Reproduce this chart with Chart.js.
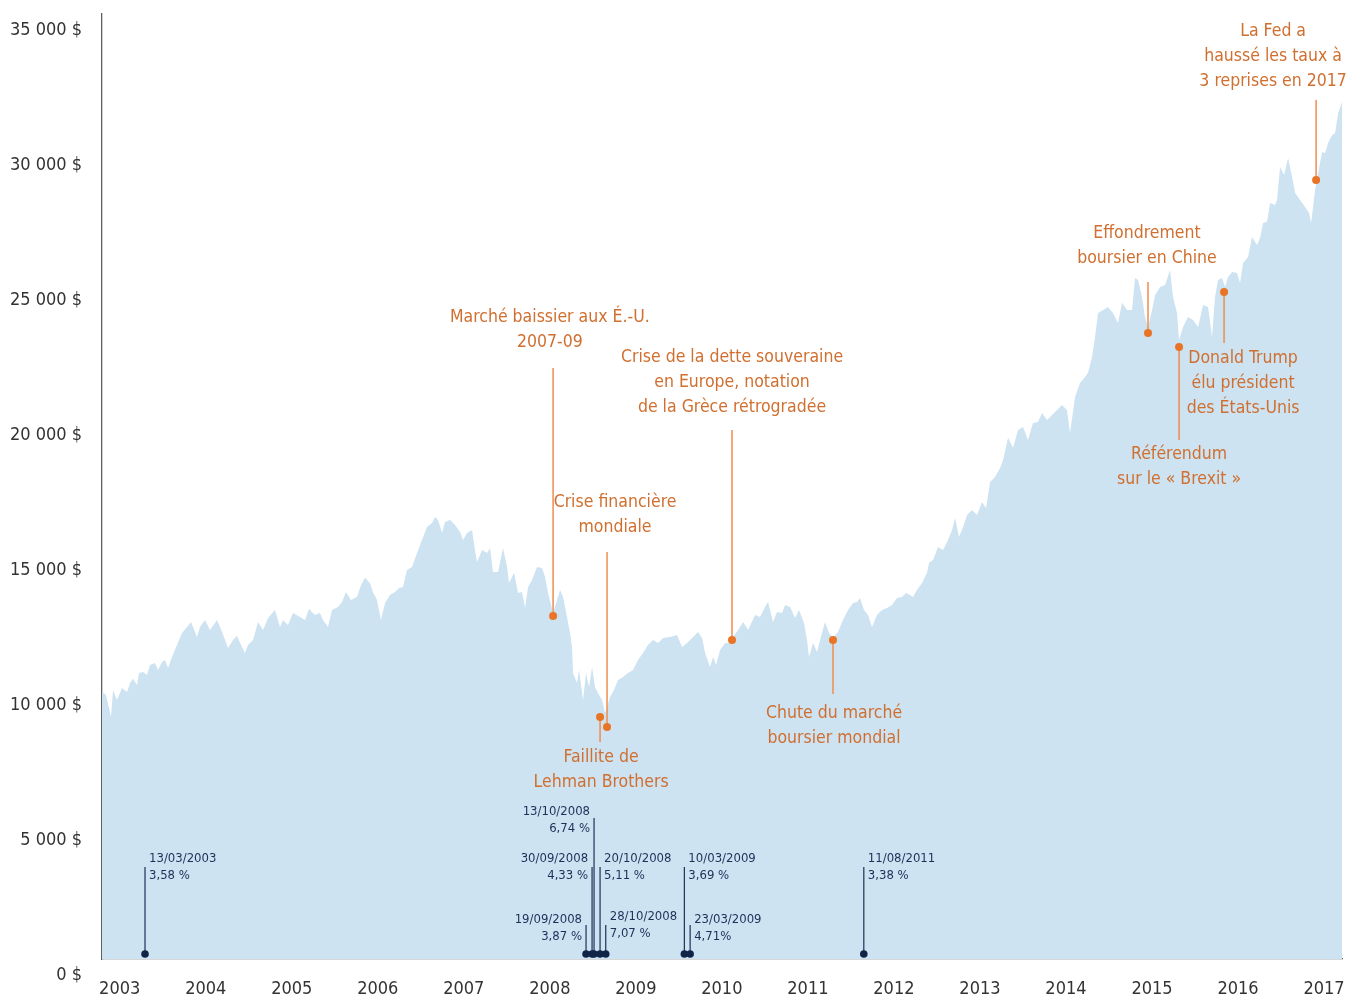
<!DOCTYPE html>
<html>
<head>
<meta charset="utf-8">
<script src="https://cdn.jsdelivr.net/npm/chart.js@4.4.1/dist/chart.umd.min.js"></script>
<style>
  html, body { margin: 0; padding: 0; background: #ffffff; }
  #wrap { width: 1359px; height: 998px; position: relative; }
</style>
</head>
<body>
<div id="wrap"><canvas id="c" width="1359" height="998"></canvas></div>
<script>
// ---------------- DATA ----------------
const yearTicks = [2003, 2004, 2005, 2006, 2007, 2008, 2009, 2010, 2011, 2012, 2013, 2014, 2015, 2016, 2017];
const valueTicks = [0, 5000, 10000, 15000, 20000, 25000, 30000, 35000];

const dates = [
  2002.794, 2002.840, 2002.899, 2002.922, 2002.968, 2003.026, 2003.085, 2003.120, 2003.154, 2003.201,
  2003.224, 2003.271, 2003.317, 2003.352, 2003.410, 2003.445, 2003.492, 2003.526, 2003.561, 2003.608,
  2003.666, 2003.724, 2003.782, 2003.829, 2003.898, 2003.933, 2003.991, 2004.050, 2004.131, 2004.189,
  2004.259, 2004.317, 2004.363, 2004.422, 2004.456, 2004.491, 2004.550, 2004.608, 2004.666, 2004.724,
  2004.805, 2004.863, 2004.898, 2004.956, 2005.014, 2005.096, 2005.154, 2005.200, 2005.270, 2005.328,
  2005.363, 2005.421, 2005.468, 2005.537, 2005.584, 2005.630, 2005.688, 2005.758, 2005.805, 2005.851,
  2005.909, 2005.944, 2005.991, 2006.037, 2006.084, 2006.142, 2006.200, 2006.247, 2006.293, 2006.340,
  2006.398, 2006.456, 2006.514, 2006.572, 2006.631, 2006.666, 2006.700, 2006.747, 2006.782, 2006.840,
  2006.898, 2006.957, 2006.991, 2007.038, 2007.096, 2007.130, 2007.154, 2007.212, 2007.270, 2007.305,
  2007.340, 2007.398, 2007.456, 2007.503, 2007.526, 2007.584, 2007.631, 2007.677, 2007.712, 2007.747,
  2007.793, 2007.851, 2007.910, 2007.945, 2007.979, 2008.038, 2008.084, 2008.119, 2008.154, 2008.200,
  2008.235, 2008.258, 2008.270, 2008.316, 2008.340, 2008.386, 2008.421, 2008.456, 2008.491, 2008.525,
  2008.560, 2008.607, 2008.642, 2008.665, 2008.700, 2008.746, 2008.793, 2008.851, 2008.909, 2008.967,
  2009.025, 2009.083, 2009.141, 2009.200, 2009.258, 2009.316, 2009.397, 2009.479, 2009.537, 2009.595,
  2009.665, 2009.723, 2009.770, 2009.805, 2009.863, 2009.898, 2009.933, 2009.979, 2010.037, 2010.095,
  2010.130, 2010.188, 2010.247, 2010.305, 2010.386, 2010.444, 2010.502, 2010.537, 2010.595, 2010.642,
  2010.700, 2010.735, 2010.793, 2010.851, 2010.897, 2010.955, 2010.990, 2011.013, 2011.060, 2011.106,
  2011.164, 2011.199, 2011.246, 2011.292, 2011.350, 2011.408, 2011.466, 2011.525, 2011.571, 2011.606,
  2011.652, 2011.699, 2011.745, 2011.803, 2011.861, 2011.920, 2011.978, 2012.036, 2012.094, 2012.141,
  2012.187, 2012.222, 2012.268, 2012.327, 2012.385, 2012.408, 2012.455, 2012.513, 2012.571, 2012.629,
  2012.676, 2012.711, 2012.757, 2012.804, 2012.850, 2012.908, 2012.966, 2013.025, 2013.071, 2013.118,
  2013.176, 2013.234, 2013.269, 2013.327, 2013.385, 2013.443, 2013.501, 2013.559, 2013.617, 2013.675,
  2013.722, 2013.780, 2013.838, 2013.896, 2013.954, 2014.012, 2014.047, 2014.106, 2014.164, 2014.222,
  2014.256, 2014.303, 2014.338, 2014.373, 2014.431, 2014.489, 2014.547, 2014.605, 2014.652, 2014.710,
  2014.768, 2014.803, 2014.838, 2014.884, 2014.919, 2014.954, 2015.001, 2015.036, 2015.094, 2015.152,
  2015.210, 2015.245, 2015.291, 2015.315, 2015.361, 2015.419, 2015.477, 2015.536, 2015.594, 2015.652,
  2015.698, 2015.733, 2015.768, 2015.815, 2015.849, 2015.884, 2015.931, 2015.989, 2016.024, 2016.059,
  2016.117, 2016.163, 2016.221, 2016.256, 2016.291, 2016.338, 2016.373, 2016.431, 2016.454, 2016.489,
  2016.536, 2016.582, 2016.629, 2016.664, 2016.722, 2016.780, 2016.826, 2016.850, 2016.896, 2016.931,
  2016.978, 2017.013, 2017.047, 2017.094, 2017.129, 2017.164, 2017.209
];

const values = [
  10445, 10320, 9520, 10510, 10140, 10580, 10430, 10770, 10920, 10690,
  11140, 11175, 11060, 11430, 11510, 11250, 11545, 11620, 11320, 11730,
  12175, 12620, 12840, 13030, 12470, 12840, 13100, 12730, 13100, 12660,
  12060, 12360, 12510, 12100, 11880, 12175, 12360, 13030, 12730, 13175,
  13470, 12840, 13100, 12915, 13360, 13210, 13100, 13510, 13285, 13360,
  13100, 12840, 13470, 13580, 13770, 14140, 13840, 13950, 14400, 14660,
  14470, 14140, 13840, 13100, 13730, 14030, 14140, 14285, 14320, 14955,
  15065, 15580, 16065, 16545, 16695, 16915, 16805, 16325, 16730, 16805,
  16620, 16360, 16065, 16325, 16435, 15695, 15250, 15695, 15580, 15770,
  14880, 14880, 15770, 15065, 14470, 14845, 14100, 14140, 13545, 14320,
  14580, 15065, 15025, 14695, 14100, 13360, 13840, 14210, 13950, 13210,
  12620, 12100, 11140, 10770, 11250, 10140, 11140, 10620, 11360, 10620,
  10400, 10140, 9655, 9880, 10250, 10510, 10880, 10990, 11140, 11250,
  11620, 11880, 12175, 12360, 12250, 12435, 12470, 12545, 12100, 12250,
  12470, 12655, 12435, 11880, 11360, 11730, 11435, 11990, 12250, 12250,
  12470, 12730, 13030, 12730, 13285, 13210, 13580, 13770, 13030, 13400,
  13360, 13655, 13580, 13175, 13470, 12990, 12360, 11730, 12250, 11915,
  12620, 13030, 12620, 12435, 12655, 13100, 13470, 13730, 13770, 13915,
  13470, 13285, 12840, 13285, 13470, 13545, 13655, 13915, 13950, 14100,
  14030, 13950, 14210, 14470, 14845, 15215, 15325, 15805, 15695, 16065,
  16435, 16880, 16175, 16545, 16990, 17175, 16990, 17470, 17250, 18210,
  18395, 18730, 19030, 19845, 19475, 20140, 20250, 19770, 20400, 20435,
  20770, 20510, 20695, 20880, 21065, 20880, 20030, 21360, 21880, 22100,
  22250, 22840, 23585, 24470, 24585, 24695, 24470, 24100, 24845, 24585,
  24585, 25770, 25695, 25065, 24325, 23955, 24585, 25140, 25435, 25510,
  26065, 25065, 24470, 23470, 23955, 24325, 24210, 23955, 24770, 24695,
  23585, 25065, 25695, 25770, 25435, 25805, 25990, 25955, 25585, 26325,
  26545, 27285, 26990, 27250, 27805, 27845, 28545, 28470, 28655, 29880,
  29585, 30215, 29510, 28915, 28655, 28400, 28175, 27805, 29025, 29655,
  30435, 30400, 30770, 31065, 31140, 31880, 32285
];

// Orange event annotations: dot date/value, connector end value, label lines
const eventDates   = [2008.038, 2008.665, 2008.584, 2010.118, 2011.292, 2014.954, 2015.315, 2015.838, 2016.908];
const eventValues  = [13250, 9140, 9510, 12360, 12360, 23730, 23210, 25250, 29400];
const eventLineEnd = [22435, 15620, 8580, 20140, 10360, 25620, 19770, 23360, 32360];
const eventLabels  = [
  ["Marché baissier aux É.-U.", "2007-09"],
  ["Crise financière", "mondiale"],
  ["Faillite de", "Lehman Brothers"],
  ["Crise de la dette souveraine", "en Europe, notation", "de la Grèce rétrogradée"],
  ["Chute du marché", "boursier mondial"],
  ["Effondrement", "boursier en Chine"],
  ["Référendum", "sur le « Brexit »"],
  ["Donald Trump", "élu président", "des États-Unis"],
  ["La Fed a", "haussé les taux à", "3 reprises en 2017"]
];
const eventLabelDates  = [2008.000, 2008.758, 2008.596, 2010.118, 2011.304, 2014.942, 2015.315, 2016.059, 2016.408];
const eventLabelValues = [24320, 17470, 8025, 22840, 9655, 27400, 19215, 22770, 34880];

// Navy markers at the bottom: daily drops
const dropDates   = [2003.294, 2008.421, 2008.491, 2008.514, 2008.584, 2008.650, 2009.564, 2009.631, 2011.650];
const dropLabels  = ["13/03/2003", "19/09/2008", "30/09/2008", "13/10/2008", "20/10/2008", "28/10/2008", "10/03/2009", "23/03/2009", "11/08/2011"];
const dropPercent = ["3,58 %", "3,87 %", "4,33 %", "6,74 %", "5,11 %", "7,07 %", "3,69 %", "4,71%", "3,38 %"];
const dropBase    = 730;
const dropTop     = [3950, 1800, 3950, 5770, 3950, 1800, 3950, 1800, 3950];
const dropTextTop = [4250, 1990, 4250, 6000, 4250, 2100, 4250, 1990, 4250];
const dropAlign   = ["left", "right", "right", "right", "left", "left", "left", "left", "left"];

// ---------------- STYLE ----------------
const FONT = '"DejaVu Sans Condensed", "Liberation Sans Narrow", Roboto, "Noto Sans", sans-serif';
const AREA = 'rgb(205,227,242)';
const ORANGE_TXT = '#d06f2f';
const ORANGE_DOT = '#ea7425';
const ORANGE_LINE = '#ee8d4f';
const NAVY = '#1c3157';
const AXIS = '#5f5f5f';

const datasets = [];
datasets.push({
  type: 'line',
  label: 'valeur',
  data: dates.map((d, i) => ({ x: d, y: values[i] })),
  backgroundColor: AREA,
  borderWidth: 0,
  borderColor: 'rgba(0,0,0,0)',
  pointRadius: 0,
  fill: 'start',
  tension: 0,
  order: 10
});
eventDates.forEach((d, i) => {
  datasets.push({
    type: 'line',
    data: [{ x: d, y: eventValues[i] }, { x: d, y: eventLineEnd[i] }],
    borderColor: ORANGE_LINE,
    borderWidth: 1.5,
    pointRadius: 0,
    fill: false,
    order: 5
  });
});
dropDates.forEach((d, i) => {
  datasets.push({
    type: 'line',
    data: [{ x: d, y: dropBase }, { x: d, y: dropTop[i] }],
    borderColor: NAVY,
    borderWidth: 1.2,
    pointRadius: 0,
    fill: false,
    order: 5
  });
});
datasets.push({
  type: 'scatter',
  data: eventDates.map((d, i) => ({ x: d, y: eventValues[i] })),
  backgroundColor: ORANGE_DOT,
  borderWidth: 0,
  pointRadius: 4,
  order: 1
});
datasets.push({
  type: 'scatter',
  data: dropDates.map(d => ({ x: d, y: dropBase })),
  backgroundColor: '#0f2447',
  borderWidth: 0,
  pointRadius: 3.8,
  order: 1
});

const labelPlugin = {
  id: 'labels',
  afterDatasetsDraw(chart) {
    const ctx = chart.ctx;
    const xs = chart.scales.x, ys = chart.scales.y;
    ctx.save();
    ctx.textBaseline = 'middle';
    ctx.font = '17.5px ' + FONT;
    ctx.fillStyle = ORANGE_TXT;
    ctx.textAlign = 'center';
    eventLabels.forEach((lines, i) => {
      const px = xs.getPixelForValue(eventLabelDates[i]);
      const py = ys.getPixelForValue(eventLabelValues[i]);
      lines.forEach((t, k) => ctx.fillText(t, px, py + k * 25));
    });
    ctx.font = '13px ' + FONT;
    ctx.fillStyle = NAVY;
    dropDates.forEach((d, i) => {
      const px = xs.getPixelForValue(d);
      const py = ys.getPixelForValue(dropTextTop[i]);
      const left = dropAlign[i] === 'left';
      ctx.textAlign = left ? 'left' : 'right';
      const tx = left ? px + 4 : px - 4;
      ctx.fillText(dropLabels[i], tx, py);
      ctx.fillText(dropPercent[i], tx, py + 17);
    });
    ctx.restore();
  }
};

new Chart(document.getElementById('c'), {
  data: { datasets },
  options: {
    responsive: false,
    animation: false,
    events: [],
    layout: { padding: { top: 14, right: 17, left: 0, bottom: 0 } },
    plugins: { legend: { display: false }, tooltip: { enabled: false } },
    scales: {
      x: {
        type: 'linear',
        min: 2002.794,
        max: 2017.209,
        afterBuildTicks: s => { s.ticks = yearTicks.map(v => ({ value: v })); },
        afterFit: s => { s.height = 39; s.paddingLeft = 0; s.paddingRight = 0; },
        grid: { display: false, drawTicks: false },
        border: { display: true, color: AXIS, width: 1.3 },
        ticks: {
          autoSkip: false, maxRotation: 0, padding: 20,
          color: '#333333', font: { family: FONT, size: 18 },
          callback: v => String(v)
        }
      },
      y: {
        type: 'linear',
        min: 544,
        max: 35544,
        afterBuildTicks: s => { s.ticks = valueTicks.map(v => ({ value: v })); },
        afterFit: s => { s.width = 102; s.paddingTop = 0; s.paddingBottom = 0; },
        grid: { display: false, drawTicks: false },
        border: { display: true, color: AXIS, width: 1.3 },
        ticks: {
          autoSkip: false, padding: 20, labelOffset: 2,
          color: '#333333', font: { family: FONT, size: 18 },
          callback: v => v.toLocaleString('fr-FR').replace(/\s/g, ' ') + ' $'
        }
      }
    }
  },
  plugins: [labelPlugin]
});
</script>
</body>
</html>
